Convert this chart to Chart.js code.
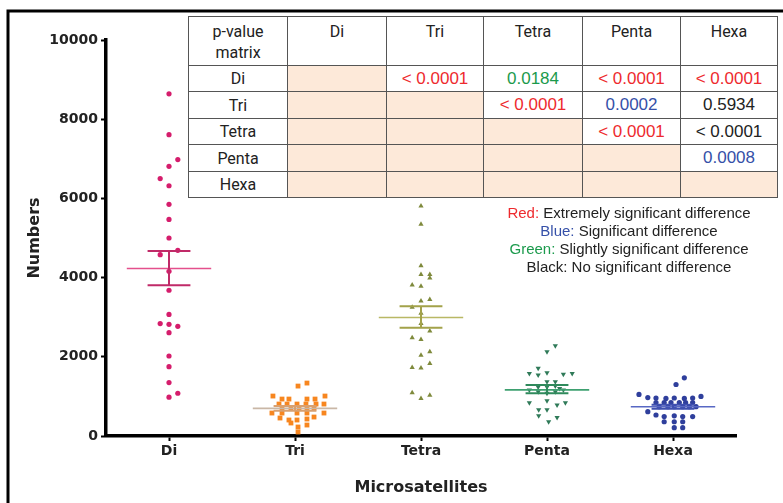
<!DOCTYPE html>
<html>
<head>
<meta charset="utf-8">
<script src="https://cdn.jsdelivr.net/npm/chart.js@4"></script>
<style>
  body { margin: 0; background: #fff; }
  #wrap { position: relative; width: 783px; height: 503px; overflow: hidden; }
  #chart { position: absolute; left: 0; top: 0; }
  #pmatrix { position: absolute; left: 188px; top: 16px; border-collapse: collapse; table-layout: fixed; background: #fff; }
  #pmatrix td { border: 1px solid #555; padding: 0; text-align: center; font-family: "Liberation Sans", Arial, sans-serif; font-size: 17px; color: #222; }
  #pmatrix td.head { font-family: Roboto, "Liberation Sans", sans-serif; font-size: 16px; vertical-align: top; padding-top: 4px; line-height: 21px; }
  #pmatrix td.rowhead { font-family: Roboto, "Liberation Sans", sans-serif; font-size: 16px; }
  #pmatrix td.shade { background: #fde9d9; }
  #notes { position: absolute; left: 479px; top: 204px; width: 300px; text-align: center; font-family: "Liberation Sans", Arial, sans-serif; font-size: 15px; line-height: 18px; color: #222; }
</style>
</head>
<body>
<div id="wrap">
  <canvas id="chart" width="783" height="503"></canvas>
  <table id="pmatrix"></table>
  <div id="notes"></div>
</div>
<script>
const categories = ['Di', 'Tri', 'Tetra', 'Penta', 'Hexa'];
const yTicks = [0, 2000, 4000, 6000, 8000, 10000];

// points: [x offset from category centre, value]
const diPoints = [
  [0, 8640], [0, 7610], [0.07, 6980], [0, 6810], [-0.07, 6500], [0, 6320], [0, 5850],
  [0, 5470], [0, 5000], [-0.07, 4580], [0.07, 4690], [0, 4160], [0, 3680], [0, 3070],
  [-0.07, 2840], [0, 2820], [0.07, 2770], [0, 2610], [0, 2020], [0, 1750], [0, 1350],
  [0, 980], [0.07, 1080]
];
const triPoints = [
  [0.024, 1261], [0.095, 1337], [-0.175, 1009], [-0.103, 933], [-0.048, 933], [0.095, 933],
  [0.159, 933], [0.238, 1009], [-0.127, 807], [-0.063, 807], [0.016, 807], [0.087, 807],
  [0.167, 807], [0.23, 807], [-0.103, 706], [-0.032, 706], [0.032, 706], [0.095, 706],
  [0.151, 706], [-0.183, 580], [-0.103, 580], [0.016, 580], [0.095, 580], [0.23, 580],
  [-0.119, 454], [-0.048, 404], [0.016, 404], [0.095, 429], [0.151, 479], [-0.032, 328],
  [0.024, 227], [0.095, 277], [0.024, 101]
];
const tetraPoints = [
  [0, 5810], [0, 5350], [0, 4300], [0, 4080], [0.07, 4080], [0.07, 3990], [-0.07, 3810],
  [0, 3780], [0, 3410], [0.07, 3450], [-0.07, 3250], [0, 3100], [0, 2840], [0.07, 2650],
  [-0.07, 2480], [0, 2440], [0, 2040], [0.07, 2130], [-0.07, 1730], [0, 1720], [0.07, 1830],
  [-0.07, 1090], [0, 950], [0.07, 1030]
];
const pentaPoints = [
  [0.066, 2280], [0, 2130], [-0.07, 1710], [-0.14, 1580], [-0.07, 1540], [0, 1600],
  [0.13, 1560], [0.2, 1580], [0, 1370], [0.066, 1370], [-0.07, 1240], [0, 1240],
  [0.066, 1260], [-0.14, 1160], [0.13, 1160], [0, 1080], [-0.07, 1120], [0.066, 1120],
  [0.1, 1200], [-0.14, 840], [0, 890], [0.08, 780], [0.146, 840], [-0.066, 660], [0, 660],
  [-0.066, 510], [0.08, 470], [0.013, 360]
];
const hexaPoints = [
  [0.09, 1470], [0.024, 1300], [-0.27, 1050], [-0.2, 970], [-0.135, 960], [-0.056, 950],
  [0.01, 960], [0.09, 950], [0.156, 960], [0.222, 1000], [-0.135, 845], [-0.07, 845],
  [-0.016, 845], [0.05, 845], [0.1, 845], [0.156, 845], [-0.11, 740], [-0.04, 740],
  [0.01, 740], [0.077, 740], [0.13, 740], [0.183, 740], [-0.2, 614], [-0.135, 530],
  [-0.07, 490], [0.01, 510], [0.077, 490], [0.156, 490], [-0.07, 360], [0.01, 360],
  [0.077, 360], [0.01, 210], [0.077, 210]
];
const groupPoints = [diPoints, triPoints, tetraPoints, pentaPoints, hexaPoints];

// mean and SEM
const means = [4229, 698, 2993, 1165, 740];
const semHigh = [4673, 760, 3279, 1286, 790];
const semLow = [3808, 640, 2732, 1077, 690];

// p-value matrix (row vs column), null = blank cell
const pValues = [
  [null, '< 0.0001', '0.0184', '< 0.0001', '< 0.0001'],
  [null, null, '< 0.0001', '0.0002', '0.5934'],
  [null, null, null, '< 0.0001', '< 0.0001'],
  [null, null, null, null, '0.0008'],
  [null, null, null, null, null]
];
const pLevels = [
  [null, 'red', 'green', 'red', 'red'],
  [null, null, 'red', 'blue', 'black'],
  [null, null, null, 'red', 'black'],
  [null, null, null, null, 'blue'],
  [null, null, null, null, null]
];
const levelColors = { red: '#ee2a2e', blue: '#3550a8', green: '#1b9a4c', black: '#222222' };
const notes = [
  ['red', 'Red:', 'Extremely significant difference'],
  ['blue', 'Blue:', 'Significant difference'],
  ['green', 'Green:', 'Slightly significant difference'],
  ['black', 'Black:', 'No significant difference']
];

const pointColors = ['#d51d6c', '#f7861f', '#7f8a3c', '#2f7a58', '#2f3f9c'];
const pointStyles = ['circle', 'rect', 'triangle', 'triangle', 'circle'];
const pointRotations = [0, 0, 0, 180, 0];
const pointRadii = [2.6, 3.4, 3, 3, 2.6];
const meanColors = ['#e4508c', '#c9b7a6', '#b9b865', '#3ea070', '#5868c4'];
const semColors = ['#c02a68', '#d8a070', '#a3a24a', '#2f8a5c', '#3f50b0'];

// build the table
const table = document.getElementById('pmatrix');
const colWidths = [99, 99, 97, 99, 98, 97];
const rowHeights = [49, 26, 27, 26, 27, 26];
const colgroup = document.createElement('colgroup');
colWidths.forEach(w => {
    const col = document.createElement('col');
    col.style.width = w + 'px';
    colgroup.appendChild(col);
});
table.appendChild(colgroup);

const headRow = document.createElement('tr');
headRow.style.height = rowHeights[0] + 'px';
const corner = document.createElement('td');
corner.className = 'head';
corner.innerHTML = 'p-value<br>matrix';
headRow.appendChild(corner);
categories.forEach(c => {
    const td = document.createElement('td');
    td.className = 'head';
    td.innerText = c;
    headRow.appendChild(td);
});
table.appendChild(headRow);

categories.forEach((rowName, r) => {
    const tr = document.createElement('tr');
    tr.style.height = rowHeights[r + 1] + 'px';
    const th = document.createElement('td');
    th.className = 'rowhead';
    th.innerText = rowName;
    tr.appendChild(th);
    categories.forEach((colName, c) => {
        const td = document.createElement('td');
        if (c <= r) td.className = 'shade';
        if (pValues[r][c]) {
            td.innerText = pValues[r][c];
            td.style.color = levelColors[pLevels[r][c]];
        }
        tr.appendChild(td);
    });
    table.appendChild(tr);
});

const notesDiv = document.getElementById('notes');
notes.forEach(n => {
    const line = document.createElement('div');
    const key = document.createElement('span');
    key.style.color = levelColors[n[0]];
    key.innerText = n[1];
    line.appendChild(key);
    line.appendChild(document.createTextNode(' ' + n[2]));
    notesDiv.appendChild(line);
});

// mean / SEM bars and outer frame
const meanSemPlugin = {
    id: 'meanSem',
    beforeDraw(chart) {
        const ctx = chart.ctx;
        ctx.save();
        ctx.fillStyle = '#fff';
        ctx.fillRect(0, 0, chart.width, chart.height);
        ctx.restore();
    },
    afterDatasetsDraw(chart) {
        const ctx = chart.ctx;
        const xs = chart.scales.x;
        const ys = chart.scales.y;
        ctx.save();
        categories.forEach((c, i) => {
            const ym = ys.getPixelForValue(means[i]);
            ctx.strokeStyle = meanColors[i];
            ctx.lineWidth = 1.6;
            ctx.beginPath();
            ctx.moveTo(xs.getPixelForValue(i - 0.335), ym);
            ctx.lineTo(xs.getPixelForValue(i + 0.335), ym);
            ctx.stroke();

            const yh = ys.getPixelForValue(semHigh[i]);
            const yl = ys.getPixelForValue(semLow[i]);
            ctx.strokeStyle = semColors[i];
            ctx.lineWidth = 2;
            ctx.beginPath();
            ctx.moveTo(xs.getPixelForValue(i), yh);
            ctx.lineTo(xs.getPixelForValue(i), yl);
            [yh, yl].forEach(yy => {
                ctx.moveTo(xs.getPixelForValue(i - 0.17), yy);
                ctx.lineTo(xs.getPixelForValue(i + 0.17), yy);
            });
            ctx.stroke();
        });
        ctx.restore();
    },
    afterDraw(chart) {
        const ctx = chart.ctx;
        ctx.save();
        ctx.strokeStyle = '#000';
        ctx.lineWidth = 3;
        ctx.beginPath();
        ctx.moveTo(8, chart.height);
        ctx.lineTo(8, 11);
        ctx.lineTo(chart.width, 11);
        ctx.stroke();
        ctx.restore();
    }
};

const axisFont = { family: 'DejaVu Sans', weight: 'bold', size: 14 };

new Chart(document.getElementById('chart'), {
    type: 'scatter',
    data: {
        datasets: categories.map((c, i) => ({
            label: c,
            data: groupPoints[i].map(p => ({ x: i + p[0], y: p[1] })),
            backgroundColor: pointColors[i],
            borderColor: pointColors[i],
            borderWidth: 0,
            pointStyle: pointStyles[i],
            rotation: pointRotations[i],
            pointRadius: pointRadii[i],
            clip: false
        }))
    },
    options: {
        responsive: false,
        animation: false,
        layout: { padding: { left: 0, right: 47, top: 40, bottom: 0 } },
        plugins: { legend: { display: false }, tooltip: { enabled: false } },
        scales: {
            x: {
                type: 'linear',
                min: -0.5,
                max: 4.5,
                afterBuildTicks: s => { s.ticks = categories.map((c, i) => ({ value: i })); },
                afterFit: s => { s.height = 67; },
                ticks: {
                    callback: v => categories[v],
                    font: axisFont,
                    color: '#222',
                    padding: 2,
                    maxRotation: 0
                },
                grid: { drawOnChartArea: false, tickLength: 5, tickWidth: 2, tickColor: '#000' },
                border: { display: true, width: 3.5, color: '#000' },
                title: {
                    display: true,
                    text: 'Microsatellites',
                    font: { family: 'DejaVu Sans', weight: 'bold', size: 16 },
                    color: '#222',
                    padding: { top: 0, bottom: 6 }
                }
            },
            y: {
                min: 0,
                max: 10000,
                afterBuildTicks: s => { s.ticks = yTicks.map(v => ({ value: v })); },
                afterFit: s => { s.width = 106; },
                ticks: {
                    callback: v => String(v),
                    font: axisFont,
                    color: '#222',
                    padding: 3
                },
                grid: { drawOnChartArea: false, tickLength: 5, tickWidth: 2, tickColor: '#000' },
                border: { display: true, width: 3.5, color: '#000' },
                title: {
                    display: true,
                    text: 'Numbers',
                    font: { family: 'DejaVu Sans', weight: 'bold', size: 16 },
                    color: '#222',
                    padding: { top: 25, bottom: 0 }
                }
            }
        }
    },
    plugins: [meanSemPlugin]
});
</script>
</body>
</html>
